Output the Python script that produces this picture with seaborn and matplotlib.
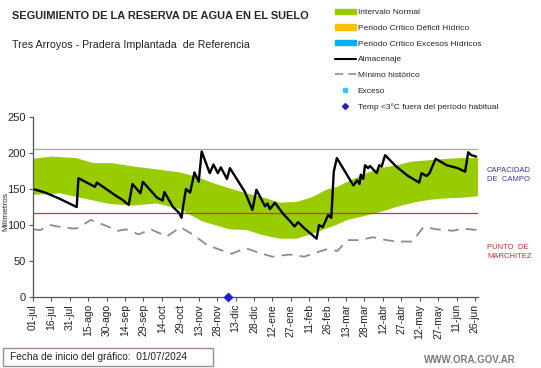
import pandas as pd
import matplotlib.pyplot as plt
import seaborn as sns
from matplotlib.patches import Patch, Rectangle
from matplotlib.lines import Line2D


# -----------------------------
# Data (days counted from 01/07/2024)
# -----------------------------
inicio = pd.Timestamp("2024-07-01")

alm_dias = [0, 10, 21, 35.6, 37, 50.5, 52, 68, 72, 78, 81, 87.5, 89.5, 101, 105.6,
            107, 114, 119, 121, 122, 124.6, 128, 131.5, 135, 137.4, 144, 147, 150.6,
            153, 158, 160.4, 172.6, 178.7, 182, 189, 191, 193, 197, 204, 209, 213,
            216, 220, 231, 233, 236, 240.5, 243, 245, 247.5, 261, 264, 266, 267, 269,
            270.5, 273, 274.5, 280, 282, 284, 286.8, 296, 305.6, 314.6, 316.5, 320.6,
            323, 328, 337, 346, 352, 354.5, 357, 361]
almacenaje = [150, 145, 137, 125, 165, 153, 159, 140, 136, 128, 157, 144, 160, 138, 134,
              146, 125, 117, 110, 123, 150, 145, 173, 160, 202, 172, 184, 172,
              180, 164, 179, 146, 121, 149, 126, 130, 122, 131, 115, 106, 98,
              104, 97, 81, 100, 97, 114, 110, 174, 193, 155, 162, 157, 170, 164,
              183, 179, 182, 172, 183, 181, 197, 181, 168, 159, 172, 168,
              172, 192, 183, 179, 174, 201, 197, 195]

sup_dias = [0, 15, 35, 49, 64, 83, 102, 120, 133, 147, 160, 174, 190, 201, 215, 228,
            239, 248, 256, 269, 283, 296, 309, 323, 337, 350, 363]
normal_sup = [192, 195, 193, 186, 186, 181, 177, 173, 167, 158, 151, 144, 137, 131,
              132, 139, 149, 153, 160, 170, 179, 183, 188, 190, 192, 193, 193]

inf_dias = [0, 15, 22, 41, 63, 82, 101, 120, 128, 138, 150, 160, 174, 187, 201, 215,
            228, 239, 247, 256, 269, 283, 296, 310, 323, 337, 350, 363]
normal_inf = [142, 143, 144, 137, 129, 127, 130, 122, 114, 105, 99, 94, 93, 86, 81,
              81, 88, 95, 100, 107, 112, 118, 125, 131, 135, 137, 138, 140]

min_dias = [0, 6, 14, 23, 34, 37, 47, 58, 69, 76, 86, 96, 109, 120, 130, 142, 155,
            162, 173, 185, 195, 209, 221, 231, 239, 248, 256, 266, 277, 288, 296,
            309, 318, 329, 342, 350, 362]
minimo = [94, 93, 100, 97, 95, 96, 107, 100, 92, 94, 87, 94, 84, 97, 87, 72, 64,
          60, 68, 61, 56, 59, 56, 62, 66, 64, 79, 79, 83, 79, 77,
          77, 97, 94, 92, 95, 93]

capacidad_campo = 205
punto_marchitez = 116

temp_dias = [158.5]
temp_valor = [0]

tick_labels = ["01-jul", "16-jul", "31-jul", "15-ago", "30-ago", "14-sep", "29-sep",
               "14-oct", "29-oct", "13-nov", "28-nov", "13-dic", "28-dic", "12-ene",
               "27-ene", "11-feb", "26-feb", "13-mar", "28-mar", "12-abr", "27-abr",
               "12-may", "27-may", "11-jun", "26-jun"]


def fechas(dias):
    return inicio + pd.to_timedelta(dias, unit="D")


alm = pd.DataFrame({"fecha": fechas(alm_dias), "valor": almacenaje})
mini = pd.DataFrame({"fecha": fechas(min_dias), "valor": minimo})

# band outline: upper edge forward, lower edge backward
band_x = list(fechas(sup_dias)) + list(fechas(inf_dias))[::-1]
band_y = normal_sup + normal_inf[::-1]


# -----------------------------
# Style
# -----------------------------
sns.set_style("white")
plt.rcParams["font.family"] = ["Liberation Sans", "DejaVu Sans"]

verde = "#99cc00"
fig = plt.figure(figsize=(5.41, 3.68), dpi=100)
ax = fig.add_axes([33 / 541, 1 - 297 / 368, 445 / 541, 180 / 368])

ax.fill(band_x, band_y, color=verde, lw=0)
ax.axhline(capacidad_campo, color="#8faadc", lw=0.9)
ax.axhline(punto_marchitez, color="#b84040", lw=0.9)

sns.lineplot(data=mini, x="fecha", y="valor", ax=ax, color="#8c8c8c", lw=1.3,
             linestyle=(0, (6, 4)))
sns.lineplot(data=alm, x="fecha", y="valor", ax=ax, color="black", lw=1.7)
sns.scatterplot(x=fechas(temp_dias), y=temp_valor, ax=ax, marker="D", s=22,
                color="#1f1fd0", edgecolor="#1f1fd0", zorder=5, clip_on=False)

ax.set_ylim(0, 250)
ax.set_xlim(inicio, inicio + pd.Timedelta(days=362.5))
ax.set_yticks(range(0, 251, 50))
ticks = pd.date_range(inicio, periods=len(tick_labels), freq="15D")
ax.set_xticks(ticks)
ax.set_xticklabels(tick_labels, rotation=90, fontsize=7.5, color="#222222")
ax.tick_params(axis="y", labelsize=8, length=3, width=0.8, color="#555555",
               direction="out", left=True, pad=2)
ax.tick_params(axis="x", length=3, width=0.8, color="#555555", direction="out",
               bottom=True, pad=2)
ax.set_xlabel("")
ax.set_ylabel("")
for s in ["top", "right"]:
    ax.spines[s].set_visible(False)
for s in ["left", "bottom"]:
    ax.spines[s].set_color("#555555")
    ax.spines[s].set_linewidth(0.9)

fig.text(6 / 541, 1 - 211 / 368, "Milímetros", rotation=90, fontsize=6,
         ha="center", va="center")

# -----------------------------
# Texts
# -----------------------------
fig.text(12 / 541, 1 - 16 / 368, "SEGUIMIENTO DE LA RESERVA DE AGUA EN EL SUELO",
         fontsize=7.9, fontweight="bold", va="center")
fig.text(12 / 541, 1 - 45 / 368, "Tres Arroyos - Pradera Implantada  de Referencia",
         fontsize=7.7, va="center", color="#222222")

fig.text(487 / 541, 1 - 175 / 368, "CAPACIDAD\nDE  CAMPO", fontsize=5.5,
         color="#3c3ca8", va="center", linespacing=1.25)
fig.text(487 / 541, 1 - 252 / 368, "PUNTO  DE\nMARCHITEZ", fontsize=5.5,
         color="#c03030", va="center", linespacing=1.25)

fig.patches.append(Rectangle((3 / 541, 1 - 366 / 368), 210 / 541, 18 / 368,
                             transform=fig.transFigure, fill=False,
                             ec="#a08a8a", lw=1.0))
fig.text(10 / 541, 1 - 357 / 368, "Fecha de inicio del gráfico:  01/07/2024",
         fontsize=7.3, va="center", color="#222222")
fig.text(470 / 541, 1 - 360 / 368, "WWW.ORA.GOV.AR", fontsize=7, ha="center",
         va="center", color="#7a7a7a", fontweight="bold")

# -----------------------------
# Legend
# -----------------------------
handles = [
    Patch(color=verde),
    Patch(color="#ffc000"),
    Patch(color="#00b0f0"),
    Line2D([], [], color="black", lw=1.5),
    Line2D([], [], color="#8c8c8c", lw=1.2, linestyle=(0, (5, 3))),
    Line2D([], [], color="#33ccee", marker="s", ms=2.5, lw=0),
    Line2D([], [], color="#1f1fd0", marker="D", ms=3, lw=0),
]
labels = ["Intervalo Normal", "Periodo Crítico Déficit Hídrico",
          "Periodo Crítico Excesos Hídricos", "Almacenaje", "Mínimo histórico",
          "Exceso", "Temp <3°C fuera del período habitual"]
fig.legend(handles, labels, loc="upper left", bbox_to_anchor=(335 / 541, 1 - 8.5 / 368),
           frameon=False, fontsize=6, handlelength=2.5, handleheight=0.6,
           handletextpad=0.2, labelspacing=0.98, borderaxespad=0, borderpad=0)

plt.savefig("out.png", dpi=100)
plt.close()
